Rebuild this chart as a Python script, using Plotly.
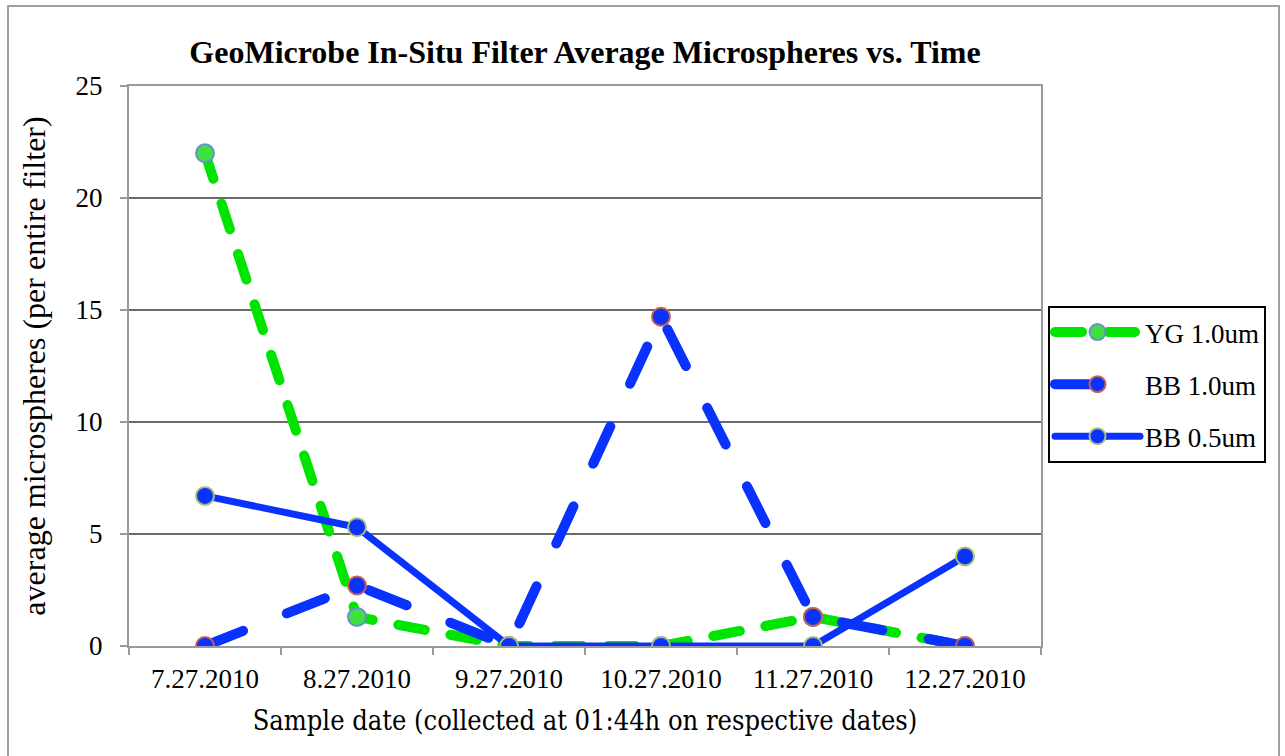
import plotly.graph_objects as go

dates = ["7.27.2010", "8.27.2010", "9.27.2010", "10.27.2010", "11.27.2010", "12.27.2010"]
yg_10 = [22.0, 1.3, 0.0, 0.0, 1.3, 0.0]
bb_10 = [0.0, 2.7, 0.0, 14.7, 1.3, 0.0]
bb_05 = [6.7, 5.3, 0.0, 0.0, 0.0, 4.0]
y_ticks = [0, 5, 10, 15, 20, 25]

GREEN = "#00e400"
BLUE = "#0a32ff"
SERIF = "Liberation Serif, Times New Roman, serif"

fig = go.Figure()
fig.add_trace(go.Scatter(
    x=dates, y=yg_10, name="YG 1.0um", mode="lines+markers", legendgroup="a",
    line=dict(color=GREEN, width=10, dash="27px,26px"),
    marker=dict(size=18, color="#40e040", line=dict(color="#6a8fd0", width=2)),
))
fig.add_trace(go.Scatter(
    x=dates, y=bb_10, name="BB 1.0um", mode="lines+markers", legendgroup="b",
    line=dict(color=BLUE, width=10, dash="41px,47px"),
    marker=dict(size=18, color=BLUE, line=dict(color="#c86050", width=2)),
))
fig.add_trace(go.Scatter(
    x=dates, y=bb_05, name="BB 0.5um", mode="lines+markers", legendgroup="c",
    line=dict(color=BLUE, width=7),
    marker=dict(size=18, color=BLUE, line=dict(color="#a8c070", width=2)),
))

L, R, T, B = 129, 244, 86, 110
W, H = 1285, 756
pw, ph = W - L - R, H - T - B

def px_x(x):
    return (x - L) / pw

def px_y(y):
    return (H - B - y) / ph

fig.update_layout(
    width=W, height=H,
    margin=dict(l=L, r=R, t=T, b=B),
    paper_bgcolor="white", plot_bgcolor="white",
    font=dict(family=SERIF, color="black", size=27),
    title=dict(
        text="<b>GeoMicrobe In-Situ Filter Average Microspheres vs. Time</b>",
        x=0.5, xref="paper", xanchor="center",
        y=1 - 52 / H, yanchor="middle",
        font=dict(family=SERIF, size=32, color="black"),
    ),
    xaxis=dict(
        type="category", range=[-0.5, 5.5],
        showline=True, linecolor="#9a9a9a", linewidth=2, mirror=True,
        ticks="outside", tickson="boundaries", ticklen=7, tickcolor="#9a9a9a", tickwidth=2,
        showgrid=False, ticklabelstandoff=8,
        tickfont=dict(family=SERIF, size=27),
        title=dict(text="Sample date (collected at 01:44h on respective dates)",
                   font=dict(family="DejaVu Serif Condensed, DejaVu Serif, serif", size=27),
                   standoff=18),
    ),
    yaxis=dict(
        range=[0, 25], tickvals=y_ticks,
        showline=True, linecolor="#9a9a9a", linewidth=2, mirror=True,
        ticks="outside", ticklen=7, tickcolor="#9a9a9a", tickwidth=2,
        showgrid=True, gridcolor="#6a6a6a", gridwidth=2, zeroline=False,
        ticklabelstandoff=12,
        tickfont=dict(family=SERIF, size=27),
        title=dict(text="average microspheres (per entire filter)",
                   font=dict(family=SERIF, size=32), standoff=20),
    ),
    legend=dict(
        x=px_x(1048), xanchor="left", y=px_y(306), yanchor="top",
        bordercolor="black", borderwidth=2, bgcolor="white",
        font=dict(family=SERIF, size=27),
        itemwidth=85, tracegroupgap=14, traceorder="grouped",
    ),
    shapes=[dict(
        type="rect", xref="paper", yref="paper",
        x0=px_x(8), x1=px_x(1279), y0=px_y(770), y1=px_y(6),
        line=dict(color="#a0a0a0", width=2), layer="below",
    )],
)

round_caps = (
    "document.querySelectorAll('.scatterlayer .js-line, .legendlines path')"
    ".forEach(function(p){p.style.strokeLinecap='round';p.style.strokeLinejoin='round';});"
)
fig.write_html("out.html", post_script=round_caps)
